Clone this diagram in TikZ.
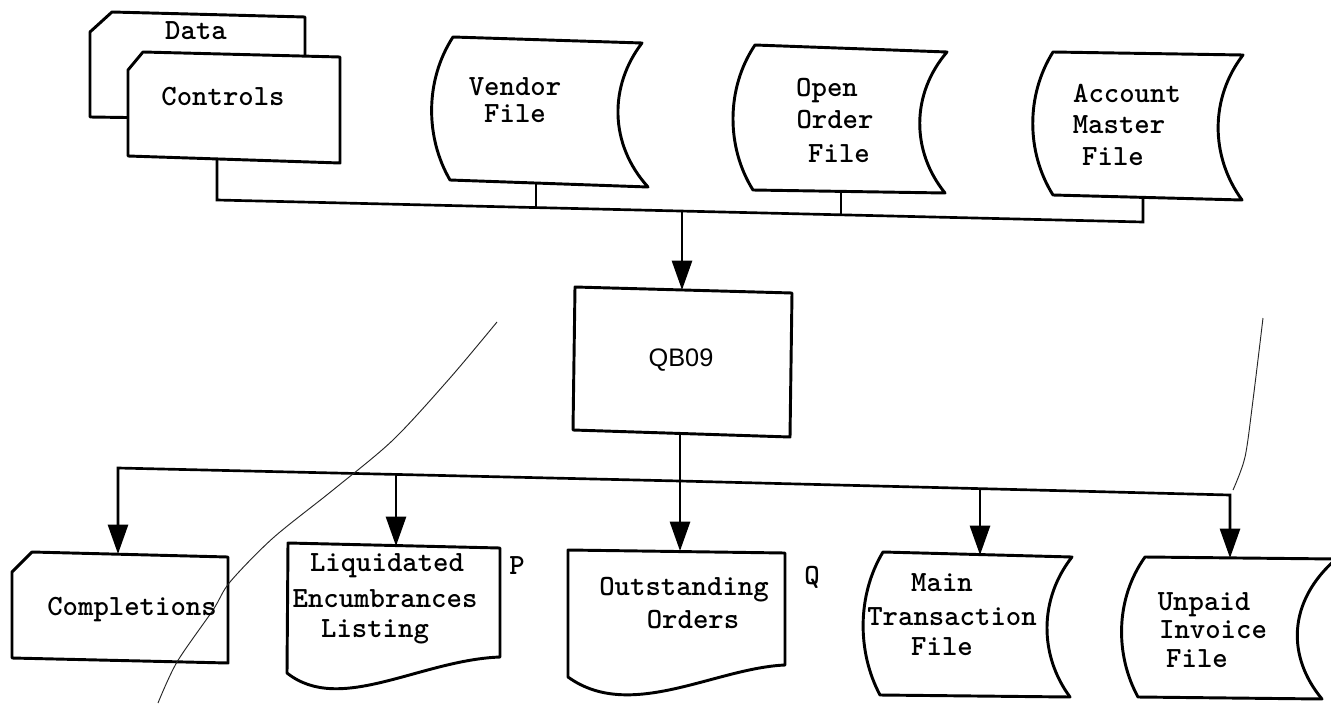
\documentclass[tikz,border=0pt]{standalone}
\usepackage{fontspec}
\usetikzlibrary{arrows.meta}
\newfontfamily\hvfont{Liberation Sans}
\begin{document}
\begin{tikzpicture}[x=0.75pt,y=-0.75pt,
  outline/.style={draw=black,line width=2.2pt,fill=white,line join=round},
  link/.style={draw=black,line width=2pt},
  arr/.style={-{Triangle[length=22pt,width=15pt]}},
  tt/.style={font=\ttfamily\bfseries\fontsize{22}{24}\selectfont,inner sep=0pt,anchor=base},
  sf/.style={font=\hvfont\fontsize{19}{21}\selectfont,inner sep=0pt,anchor=base},
  scratch/.style={draw=black!85,line width=0.7pt}]
\useasboundingbox (0,0) rectangle (1331,703);
\fill[white] (0,0) rectangle (1331,703);
\clip (0,0) rectangle (1331,703);

% ---- input cards ----
\path[outline] (112,12) -- (305,17) -- (305,120) -- (90,117) -- (90,32) -- cycle;
\path[outline] (143,52) -- (340,57) -- (340,163) -- (128,156) -- (128,70) -- cycle;

% ---- input files ----
\path[outline] (453,37) -- (642,43) .. controls (609,86) and (609,144) .. (648,187)
  -- (450,180) .. controls (425,137) and (425,80) .. (453,37) -- cycle;
\path[outline] (755,45) -- (947,52) .. controls (911,94) and (911,151) .. (945,193)
  -- (753,190) .. controls (726,147) and (726,88) .. (755,45) -- cycle;
\path[outline] (1053,52) -- (1243,55) .. controls (1210,98) and (1210,156) .. (1242,200)
  -- (1053,195) .. controls (1026,152) and (1026,95) .. (1053,52) -- cycle;

% ---- program ----
\path[outline] (575,287) -- (792,293) -- (790,437) -- (573,430) -- cycle;

% ---- outputs ----
\path[outline] (32,552) -- (228,557) -- (228,663) -- (12,658) -- (12,572) -- cycle;
\path[outline] (288,543) -- (500,548) -- (500,657)
  .. controls (420,660) and (340,715) .. (287,673) -- cycle;
\path[outline] (568,550) -- (785,553) -- (785,665)
  .. controls (715,668) and (630,722) .. (568,677) -- cycle;
\path[outline] (883,552) -- (1072,557) .. controls (1039,599) and (1039,655) .. (1070,697)
  -- (880,695) .. controls (857,652) and (857,595) .. (883,552) -- cycle;
\path[outline] (1145,557) -- (1336,559) .. controls (1287,602) and (1287,657) .. (1322,699)
  -- (1138,697) .. controls (1115,655) and (1115,599) .. (1145,557) -- cycle;

% ---- ports and bus points ----
\coordinate (controls-s) at (217,159);
\coordinate (vendor-s) at (536,183);
\coordinate (open-s) at (841,191);
\coordinate (account-s) at (1143,197);
\coordinate (t1) at (217,200);
\coordinate (t2) at (536,208);
\coordinate (t3) at (682,211);
\coordinate (t4) at (841,215);
\coordinate (t5) at (1143,222);
\coordinate (qb-n) at (682,290);
\coordinate (qb-s) at (680,433);
\coordinate (b0) at (118,468);
\coordinate (b1) at (396,475);
\coordinate (b2) at (680,481);
\coordinate (b3) at (980,489);
\coordinate (b4) at (1230,495);
\coordinate (comp-n) at (118,554);
\coordinate (liq-n) at (396,546);
\coordinate (out-n) at (680,551);
\coordinate (main-n) at (980,555);
\coordinate (unp-n) at (1230,558);

% ---- connectors ----
\draw[link] (controls-s) -- (t1) -- (t5) -- (account-s);
\draw[link] (vendor-s) -- (t2);
\draw[link] (open-s) -- (t4);
\draw[link,arr] (t3) -- (qb-n);
\draw[link] (qb-s) -- (b2);
\draw[link,arr] (b2) -- (b0) -- (comp-n);
\draw[link,arr] (b2) -- (b4) -- (unp-n);
\draw[link,arr] (b1) -- (liq-n);
\draw[link,arr] (b2) -- (out-n);
\draw[link,arr] (b3) -- (main-n);

% ---- pen strokes ----
\draw[scratch] plot[smooth] coordinates {(158,703) (177,662) (213,610) (230,582) (273,538) (333,490) (393,440) (450,378) (497,322)};
\draw[scratch] plot[smooth] coordinates {(1263,318) (1253,400) (1245,457) (1233,490)};

% ---- labels ----
\node[tt] (data) at (196,39) {Data};
\node[tt] (controls) at (223,105) {Controls};
\node[tt] (vendor1) at (515,95) {Vendor};
\node[tt] (vendor2) at (515,122) {File};
\node[tt] (open1) at (827,96) {Open};
\node[tt] (open2) at (835,128) {Order};
\node[tt] (open3) at (839,162) {File};
\node[tt] (acct1) at (1127,102) {Account};
\node[tt] (acct2) at (1119,133) {Master};
\node[tt] (acct3) at (1113,165) {File};
\node[sf] (qb) at (681,366) {QB09};
\node[tt] (comp) at (132,615) {Completions};
\node[tt] (liq1) at (387,571) {Liquidated};
\node[tt] (liq2) at (385,607) {Encumbrances};
\node[tt] (liq3) at (375,637) {Listing};
\node[tt] (markp) at (517,574) {P};
\node[tt] (out1) at (684,595) {Outstanding};
\node[tt] (out2) at (693,628) {Orders};
\node[tt] (markq) at (812,584) {Q};
\node[tt] (main1) at (942,591) {Main};
\node[tt] (main2) at (952,625) {Transaction};
\node[tt] (main3) at (942,655) {File};
\node[tt] (unp1) at (1204,610) {Unpaid};
\node[tt] (unp2) at (1213,638) {Invoice};
\node[tt] (unp3) at (1197,667) {File};
\end{tikzpicture}
\end{document}
